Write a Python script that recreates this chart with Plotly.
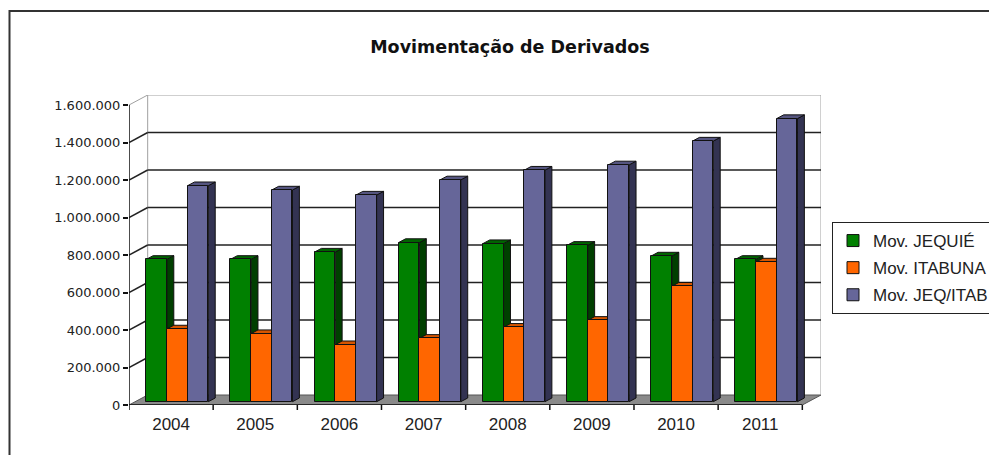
import plotly.graph_objects as go

# ---- data ----
years = ["2004", "2005", "2006", "2007", "2008", "2009", "2010", "2011"]
mov_jequie = [759000, 759000, 798000, 849000, 843000, 834000, 777000, 759000]
mov_itabuna = [388000, 363000, 304000, 338000, 397000, 434000, 616000, 745000]
mov_jeq_itab = [1152000, 1129000, 1102000, 1183000, 1235000, 1263000, 1390000, 1510000]
series_names = ["Mov. JEQUIÉ", "Mov. ITABUNA", "Mov. JEQ/ITAB"]
ytick_vals = [0, 200000, 400000, 600000, 800000, 1000000, 1200000, 1400000, 1600000]
ytick_text = ["0", "200.000", "400.000", "600.000", "800.000", "1.000.000",
              "1.200.000", "1.400.000", "1.600.000"]

# ---- style ----
front_cols = ["#008000", "#FF6600", "#666699"]
side_cols = ["#003F00", "#8F3A00", "#333352"]
top_cols = ["#006400", "#D65500", "#555580"]

PAGE_OFF = 8     # default body margin of the html page
W, H = 997 - PAGE_OFF, 455 - PAGE_OFF
PL, PT, PW, PH = 129 - PAGE_OFF, 95 - PAGE_OFF, 692, 310

YMAX = 1600000
D_X = 0.222      # depth of the 3-D box, in category units
D_Y = 53333      # depth of the 3-D box, in value units
F0 = 0.33        # depth fraction of bar front faces
FB = 0.37        # bar depth fraction
BW = 0.246       # bar width
n = len(years)
series = [mov_jequie, mov_itabuna, mov_jeq_itab]


def px_x(px):
    return (px - 129) / PW


def px_y(py):
    return (405 - py) / PH


fig = go.Figure()
shapes = []

# outer frame
shapes.append(dict(type="rect", xref="paper", yref="paper", x0=px_x(9.5), x1=px_x(1003),
                   y0=px_y(470), y1=px_y(11), line=dict(color="#333", width=2), layer="below"))

x_left, x_right = -0.5, n - 0.5
# floor
shapes.append(dict(type="path", layer="below",
                   path=f"M{x_left},0 L{x_right},0 L{x_right + D_X},{D_Y} L{x_left + D_X},{D_Y} Z",
                   fillcolor="#8A8A8A", line=dict(color="#555", width=1)))
# back wall edges
shapes.append(dict(type="line", layer="below", x0=x_left + D_X, x1=x_left + D_X, y0=D_Y,
                   y1=YMAX + D_Y, line=dict(color="#A0A0A0", width=1)))
shapes.append(dict(type="line", layer="below", x0=x_right + D_X, x1=x_right + D_X, y0=D_Y,
                   y1=YMAX + D_Y, line=dict(color="#A0A0A0", width=1)))
# gridlines on back wall and left wall
for v in ytick_vals[1:]:
    col = "#A0A0A0" if v == YMAX else "#222"
    w = 1 if v == YMAX else 1.5
    shapes.append(dict(type="line", layer="below", x0=x_left + D_X, x1=x_right + D_X,
                       y0=v + D_Y, y1=v + D_Y, line=dict(color=col, width=w)))
    shapes.append(dict(type="line", layer="below", x0=x_left, x1=x_left + D_X,
                       y0=v, y1=v + D_Y, line=dict(color=col, width=w)))

# bars: front faces as bar traces, side/top faces as shapes
base = F0 * D_Y
dx, dy = FB * D_X, FB * D_Y
for i in range(n):
    gc = i + F0 * D_X
    for k in range(3):
        v = series[k][i]
        xl = gc + (k - 1.5) * BW
        xr = xl + BW
        top = base + v
        shapes.append(dict(type="path", layer="below",
                           path=f"M{xr},{base} L{xr + dx},{base + dy} L{xr + dx},{top + dy} L{xr},{top} Z",
                           fillcolor=side_cols[k], line=dict(color="#111", width=1)))
        shapes.append(dict(type="path", layer="below",
                           path=f"M{xl},{top} L{xr},{top} L{xr + dx},{top + dy} L{xl + dx},{top + dy} Z",
                           fillcolor=top_cols[k], line=dict(color="#111", width=1)))

for k in range(3):
    xs = [i + F0 * D_X + (k - 1) * BW for i in range(n)]
    fig.add_trace(go.Bar(x=xs, y=series[k], base=[base] * n, width=BW,
                         name=series_names[k], legendgroup=f"g{k}",
                         marker=dict(color=front_cols[k], line=dict(color="#111", width=1)),
                         hovertext=years, hoverinfo="text+y+name"))

# axis lines & x ticks
shapes.append(dict(type="line", x0=x_left, x1=x_left, y0=0, y1=YMAX,
                   line=dict(color="#111", width=1.5)))
shapes.append(dict(type="line", x0=x_left, x1=x_right, y0=0, y1=0,
                   line=dict(color="#111", width=1.5)))
for j in range(n + 1):
    shapes.append(dict(type="line", xref="x", yref="paper", x0=x_left + j, x1=x_left + j,
                       y0=0, y1=-5 / PH, line=dict(color="#111", width=1.5)))

fig.update_layout(
    width=W, height=H,
    margin=dict(l=PL, r=W - PL - PW, t=PT, b=H - PT - PH, autoexpand=False),
    paper_bgcolor="white", plot_bgcolor="white",
    barmode="overlay", bargap=0,
    showlegend=True,
    title=dict(text="<b>Movimentação de Derivados</b>", x=(510 - PAGE_OFF) / W, xanchor="center",
               y=1 - (47 - PAGE_OFF) / H, yanchor="middle",
               font=dict(family="DejaVu Sans", size=17.5, color="#111")),
    xaxis=dict(range=[x_left, x_right + D_X], tickvals=list(range(n)), ticktext=years,
               ticks="outside", ticklen=4, tickcolor="rgba(0,0,0,0)",
               showgrid=False, zeroline=False, showline=False,
               tickfont=dict(family="Liberation Sans, Arial", size=17, color="#222")),
    yaxis=dict(range=[0, YMAX + D_Y], tickvals=ytick_vals, ticktext=ytick_text,
               ticks="outside", ticklen=5, tickcolor="#111", tickwidth=1.5,
               showgrid=False, zeroline=False, showline=False,
               tickfont=dict(family="DejaVu Sans", size=13, color="#222")),
    legend=dict(x=px_x(832), y=px_y(222), xanchor="left", yanchor="top",
                bordercolor="#222", borderwidth=1, bgcolor="white",
                tracegroupgap=2,
                font=dict(family="Liberation Sans, Arial", size=17, color="#222")),
    shapes=shapes,
)

fig.write_html("out.html")
